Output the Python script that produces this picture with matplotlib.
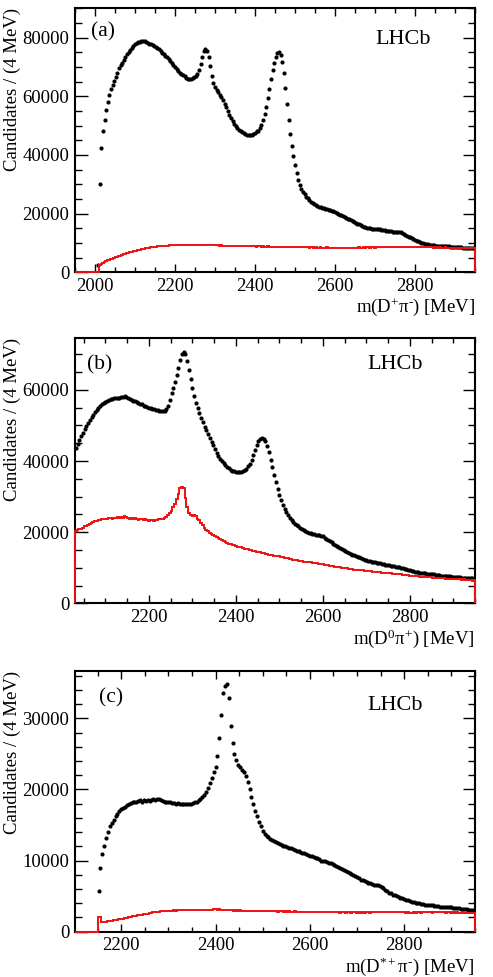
import numpy as np
import matplotlib.pyplot as plt
from matplotlib.ticker import MultipleLocator

plt.rcParams['font.family'] = ['Liberation Serif', 'DejaVu Serif']
plt.rcParams['mathtext.fontset'] = 'custom'
plt.rcParams['mathtext.rm'] = 'Liberation Serif'
plt.rcParams['mathtext.it'] = 'Liberation Serif:italic'
plt.rcParams['mathtext.bf'] = 'Liberation Serif:bold'

BIN = 4.0  # MeV

# ---- (a) m(D+ pi-) : candidates in thousands, 4 MeV bins
a_black_first = 2008
a_black_k = [
    2.5, 30.0, 42.5, 48.3, 52.0, 55.2, 58.0, 60.5, 62.5, 64.0,
    65.3, 66.5, 68.0, 69.5, 70.6, 71.5, 72.4, 73.3, 74.3, 75.2,
    75.9, 76.6, 77.2, 77.7, 78.1, 78.4, 78.6, 78.8, 78.9, 78.8,
    78.6, 78.3, 78.0, 77.7, 77.4, 77.2, 76.9, 76.5, 76.0, 75.4,
    74.9, 74.4, 73.8, 73.3, 72.8, 72.2, 71.5, 70.7, 69.9, 69.2,
    68.6, 68.1, 67.7, 67.3, 66.9, 66.3, 65.9, 65.8, 66.0, 66.2,
    66.5, 66.9, 67.6, 68.8, 71.0, 73.5, 75.5, 76.2, 75.4, 73.5,
    70.5, 67.0, 64.5, 63.2, 62.3, 61.5, 60.6, 59.7, 58.6, 57.4,
    56.2, 55.0, 53.7, 52.5, 51.5, 50.6, 49.9, 49.2, 48.6, 48.1,
    47.7, 47.4, 47.1, 46.9, 46.8, 46.8, 46.8, 47.0, 47.4, 48.0,
    48.3, 49.2, 50.3, 51.8, 53.8, 56.5, 59.5, 62.5, 65.8, 69.0,
    71.5, 73.5, 74.8, 75.0, 74.0, 71.8, 68.0, 63.0, 57.5, 52.0,
    47.2, 43.2, 39.6, 36.5, 33.8, 31.6, 29.8, 28.5, 27.4, 26.6,
    25.8, 25.2, 24.6, 24.1, 23.7, 23.3, 23.0, 22.7, 22.4, 22.2,
    22.0, 21.8, 21.6, 21.5, 21.4, 21.2, 21.0, 20.8, 20.5, 20.2,
    19.9, 19.7, 19.4, 19.1, 18.8, 18.6, 18.3, 18.0, 17.7, 17.4,
    17.1, 16.8, 16.5, 16.3, 16.0, 15.8, 15.6, 15.4, 15.2, 15.1,
    15.0, 14.9, 14.9, 14.8, 14.8, 14.6, 14.6, 14.5, 14.4, 14.4,
    14.2, 14.1, 14.0, 14.0, 13.9, 13.9, 13.8, 13.8, 13.8, 13.6,
    13.4, 13.1, 12.8, 12.5, 12.2, 11.9, 11.6, 11.3, 11.0, 10.8,
    10.5, 10.3, 10.1, 9.9, 9.8, 9.6, 9.5, 9.4, 9.3, 9.2,
    9.2, 9.1, 9.1, 9.0, 9.0, 8.9, 8.9, 8.8, 8.8, 8.8,
    8.7, 8.7, 8.6, 8.6, 8.6, 8.5, 8.5, 8.5, 8.4, 8.4,
    8.4, 8.3, 8.3, 8.3, 8.2, 8.2,
]
a_red_first = 1952
a_red_k = [0.0] * 15 + [
    2.6, 2.9, 3.2, 3.5, 3.8, 4.1, 4.3, 4.5, 4.7, 4.9,
    5.1, 5.3, 5.5, 5.7, 5.9, 6.1, 6.3, 6.5, 6.6, 6.8,
    7.0, 7.1, 7.3, 7.4, 7.6, 7.7, 7.9, 8.0, 8.1, 8.2,
    8.3, 8.4, 8.5, 8.6, 8.7, 8.7, 8.8, 8.9, 8.9, 9.0,
    9.0, 9.1, 9.1, 9.1, 9.2, 9.2, 9.2, 9.3, 9.3, 9.3,
    9.3, 9.4, 9.3, 9.4, 9.4, 9.3, 9.4, 9.4, 9.3, 9.4,
    9.3, 9.4, 9.3, 9.3, 9.4, 9.3, 9.3, 9.2, 9.3, 9.3,
    9.2, 9.3, 9.2, 9.2, 9.2, 9.1, 9.2, 9.1, 9.1, 9.1,
    9.0, 9.1, 9.0, 9.0, 9.0, 8.9, 9.0, 8.9, 8.9, 8.9,
    8.9, 8.8, 8.9, 8.8, 8.8, 8.9, 8.8, 8.8, 8.7, 8.8,
    8.8, 8.7, 8.8, 8.7, 8.7, 8.8, 8.7, 8.7, 8.6, 8.7,
    8.7, 8.6, 8.7, 8.6, 8.6, 8.7, 8.6, 8.6, 8.6, 8.5,
    8.6, 8.6, 8.5, 8.6, 8.5, 8.5, 8.6, 8.5, 8.5, 8.5,
    8.5, 8.4, 8.5, 8.5, 8.4, 8.5, 8.4, 8.4, 8.5, 8.4,
    8.4, 8.4, 8.5, 8.4, 8.4, 8.4, 8.3, 8.4, 8.4, 8.4,
    8.4, 8.3, 8.4, 8.4, 8.3, 8.4, 8.4, 8.3, 8.4, 8.4,
    8.4, 8.4, 8.5, 8.4, 8.4, 8.5, 8.4, 8.5, 8.5, 8.4,
    8.5, 8.5, 8.4, 8.5, 8.5, 8.5, 8.6, 8.5, 8.5, 8.6,
    8.5, 8.6, 8.5, 8.6, 8.6, 8.5, 8.6, 8.6, 8.5, 8.6,
    8.6, 8.6, 8.5, 8.6, 8.6, 8.5, 8.6, 8.6, 8.6, 8.5,
    8.6, 8.5, 8.6, 8.5, 8.5, 8.6, 8.5, 8.5, 8.5, 8.4,
    8.5, 8.5, 8.4, 8.5, 8.4, 8.4, 8.5, 8.4, 8.4, 8.4,
    8.4, 8.3, 8.4, 8.4, 8.3, 8.4, 8.3, 8.3, 8.4, 8.3,
    8.3, 8.2, 8.3, 8.2, 8.2,
]

# ---- (b) m(D0 pi+)
b_black_first = 2032
b_black_k = [
    43.8, 44.9, 46.0, 47.0, 48.0, 49.0, 49.9, 50.7, 51.5, 52.3,
    53.0, 53.7, 54.4, 55.0, 55.6, 56.0, 56.4, 56.7, 57.0, 57.2,
    57.4, 57.5, 57.6, 57.7, 57.7, 57.8, 57.9, 58.0, 58.3, 58.0,
    57.6, 57.4, 57.2, 57.0, 56.8, 56.5, 56.3, 56.1, 55.9, 55.6,
    55.4, 55.2, 55.0, 54.9, 54.7, 54.5, 54.4, 54.3, 54.2, 54.0,
    54.0, 54.1, 54.6, 55.6, 57.2, 59.0, 60.6, 62.3, 64.2, 66.2,
    68.3, 70.0, 70.6, 70.0, 68.2, 65.7, 63.2, 60.6, 58.3, 56.3,
    54.8, 53.4, 52.1, 50.9, 49.7, 48.6, 47.5, 46.4, 45.4, 44.4,
    43.4, 42.4, 41.5, 40.7, 40.0, 39.4, 38.9, 38.4, 38.0, 37.6,
    37.3, 37.1, 37.0, 36.9, 36.9, 37.0, 37.2, 37.5, 37.9, 38.5,
    39.3, 40.4, 41.7, 43.0, 44.4, 45.5, 46.2, 46.5, 46.3, 45.6,
    44.3, 42.5, 40.4, 38.3, 36.2, 34.2, 32.2, 30.5, 29.0, 27.7,
    26.6, 25.6, 24.8, 24.1, 23.5, 22.9, 22.4, 22.0, 21.6, 21.2,
    20.9, 20.6, 20.4, 20.1, 19.9, 19.7, 19.5, 19.4, 19.3, 19.2,
    19.1, 19.0, 18.8, 18.5, 18.1, 17.8, 17.4, 17.1, 16.7, 16.4,
    16.1, 15.8, 15.5, 15.2, 14.9, 14.6, 14.4, 14.1, 13.9, 13.7,
    13.5, 13.3, 13.1, 12.9, 12.7, 12.5, 12.3, 12.2, 12.0, 11.9,
    11.7, 11.6, 11.5, 11.4, 11.3, 11.2, 11.1, 11.0, 10.9, 10.8,
    10.7, 10.6, 10.5, 10.4, 10.3, 10.2, 10.1, 10.0, 9.9, 9.7,
    9.6, 9.4, 9.3, 9.1, 9.0, 8.9, 8.8, 8.7, 8.6, 8.5,
    8.5, 8.4, 8.3, 8.3, 8.2, 8.1, 8.1, 8.0, 7.9, 7.9,
    7.8, 7.8, 7.7, 7.7, 7.6, 7.6, 7.5, 7.5, 7.4, 7.4,
    7.3, 7.3, 7.2, 7.2, 7.2, 7.1, 7.1, 7.0, 7.0, 6.9,
]
b_red_first = 2032
b_red_k = [
    20.2, 20.5, 20.8, 21.0, 21.3, 21.6, 21.8, 22.0, 22.3, 22.6,
    22.8, 23.0, 23.2, 23.3, 23.5, 23.6, 23.6, 23.8, 23.7, 23.9,
    24.0, 23.8, 24.1, 24.0, 24.2, 24.0, 24.3, 24.1, 24.5, 24.2,
    24.0, 23.8, 24.0, 23.6, 24.0, 23.8, 23.5, 23.8, 23.6, 23.4,
    23.7, 23.4, 23.2, 23.5, 23.3, 23.0, 23.4, 23.3, 23.6, 23.8,
    23.7, 24.0, 24.3, 24.8, 25.3, 26.0, 27.0, 28.0, 29.3, 30.8,
    32.3, 32.6, 32.4, 29.5, 27.0, 25.3, 24.8, 24.6, 24.9, 24.5,
    23.8, 23.4, 22.6, 21.9, 21.2, 20.7, 20.2, 19.8, 19.4, 19.1,
    19.0, 18.6, 18.3, 18.0, 17.8, 17.5, 17.3, 17.0, 16.8, 16.6,
    16.4, 16.3, 16.1, 15.9, 15.8, 15.7, 15.6, 15.4, 15.3, 15.2,
    15.0, 14.9, 14.8, 14.7, 14.5, 14.4, 14.3, 14.2, 14.1, 14.0,
    13.9, 13.7, 13.6, 13.5, 13.4, 13.3, 13.3, 13.2, 13.0, 12.9,
    12.8, 12.7, 12.6, 12.5, 12.4, 12.3, 12.2, 12.1, 12.0, 11.9,
    11.8, 11.7, 11.7, 11.6, 11.5, 11.5, 11.4, 11.3, 11.2, 11.2,
    11.1, 11.0, 11.0, 10.9, 10.8, 10.7, 10.6, 10.5, 10.4, 10.3,
    10.2, 10.2, 10.1, 10.0, 9.9, 9.9, 9.8, 9.7, 9.7, 9.6,
    9.5, 9.5, 9.4, 9.4, 9.3, 9.3, 9.2, 9.2, 9.1, 9.0,
    9.0, 8.9, 8.9, 8.8, 8.8, 8.7, 8.6, 8.6, 8.5, 8.5,
    8.4, 8.4, 8.3, 8.3, 8.2, 8.2, 8.1, 8.1, 8.0, 8.0,
    7.9, 7.9, 7.8, 7.8, 7.7, 7.7, 7.6, 7.6, 7.5, 7.5,
    7.4, 7.4, 7.3, 7.3, 7.3, 7.2, 7.2, 7.1, 7.1, 7.1,
    7.0, 7.0, 7.0, 6.9, 6.9, 6.9, 6.8, 6.8, 6.8, 6.7,
    6.7, 6.7, 6.6, 6.7, 6.6, 6.5, 6.6, 6.5, 6.4, 6.5,
]

# ---- (c) m(D*+ pi-)
c_black_first = 2152
c_black_k = [
    5.7, 9.0, 10.9, 12.0, 13.2, 14.0, 14.8, 15.3, 15.7, 16.2,
    16.6, 16.9, 17.2, 17.4, 17.6, 17.8, 17.9, 18.1, 18.2, 18.3,
    18.3, 18.4, 18.5, 18.3, 18.5, 18.4, 18.5, 18.4, 18.5, 18.6,
    18.5, 18.6, 18.7, 18.5, 18.4, 18.3, 18.3, 18.2, 18.2, 18.1,
    18.1, 18.0, 18.1, 18.0, 18.0, 17.9, 18.0, 17.9, 17.9, 18.0,
    18.1, 18.2, 18.3, 18.5, 18.7, 18.9, 19.2, 19.6, 20.2, 20.9,
    21.6, 22.5, 23.2, 24.7, 27.3, 30.5, 33.5, 34.6, 34.9, 32.8,
    28.9, 26.5, 25.0, 24.1, 23.5, 23.2, 22.8, 22.4, 21.9, 21.1,
    20.0, 18.9, 17.9, 17.0, 16.2, 15.4, 14.8, 14.2, 13.8, 13.5,
    13.3, 13.1, 12.9, 12.7, 12.6, 12.4, 12.3, 12.2, 12.1, 12.0,
    11.9, 11.8, 11.7, 11.6, 11.5, 11.4, 11.3, 11.2, 11.1, 11.0,
    10.9, 10.8, 10.7, 10.6, 10.5, 10.4, 10.3, 10.2, 10.0, 10.0,
    9.9, 9.8, 9.7, 9.6, 9.5, 9.4, 9.3, 9.1, 9.0, 8.8,
    8.7, 8.5, 8.4, 8.2, 8.1, 7.9, 7.8, 7.7, 7.5, 7.3,
    7.2, 7.1, 7.0, 6.9, 6.8, 6.7, 6.6, 6.6, 6.5, 6.4,
    6.3, 6.1, 5.9, 5.7, 5.5, 5.4, 5.2, 5.1, 5.0, 4.9,
    4.8, 4.7, 4.6, 4.5, 4.4, 4.3, 4.2, 4.2, 4.1, 4.0,
    4.0, 3.9, 3.9, 3.8, 3.8, 3.7, 3.7, 3.7, 3.6, 3.6,
    3.6, 3.5, 3.5, 3.5, 3.4, 3.4, 3.4, 3.4, 3.3, 3.3,
    3.3, 3.3, 3.2, 3.2, 3.2, 3.2, 3.1, 3.1, 3.1, 3.1,
]
c_red_first = 2104
c_red_k = [0.0] * 12 + [
    2.0, 2.0, 1.3, 1.35, 1.4, 1.45, 1.5, 1.55, 1.6, 1.65,
    1.7, 1.75, 1.8, 1.85, 1.9, 1.95, 2.0, 2.1, 2.15, 2.2,
    2.25, 2.3, 2.35, 2.4, 2.45, 2.5, 2.55, 2.6, 2.65, 2.7,
    2.7, 2.75, 2.8, 2.85, 2.9, 2.85, 2.9, 2.95, 2.9, 2.95,
    3.0, 2.95, 3.0, 3.05, 3.0, 3.05, 3.1, 3.0, 3.1, 3.05,
    3.1, 3.05, 3.1, 3.1, 3.05, 3.1, 3.05, 3.1, 3.1, 3.05,
    3.1, 3.15, 3.2, 3.1, 3.15, 3.1, 3.05, 3.0, 3.05, 3.0,
    3.0, 3.05, 2.95, 3.0, 2.95, 3.0, 2.95, 2.9, 2.95, 2.9,
    2.95, 2.9, 2.9, 2.95, 2.9, 2.85, 2.9, 2.9, 2.85, 2.9,
    2.85, 2.9, 2.85, 2.85, 2.9, 2.8, 2.85, 2.85, 2.8, 2.85,
    2.8, 2.85, 2.8, 2.8, 2.85, 2.8, 2.75, 2.8, 2.8, 2.75,
    2.8, 2.75, 2.8, 2.75, 2.75, 2.8, 2.75, 2.7, 2.75, 2.75,
    2.7, 2.75, 2.7, 2.75, 2.7, 2.7, 2.75, 2.7, 2.65, 2.7,
    2.7, 2.65, 2.7, 2.7, 2.65, 2.7, 2.75, 2.65, 2.7, 2.65,
    2.7, 2.65, 2.7, 2.7, 2.65, 2.7, 2.7, 2.75, 2.7, 2.7,
    2.75, 2.7, 2.7, 2.75, 2.7, 2.7, 2.75, 2.7, 2.75, 2.7,
    2.7, 2.75, 2.7, 2.65, 2.7, 2.6, 2.65, 2.7, 2.65, 2.7,
    2.7, 2.65, 2.7, 2.7, 2.75, 2.7, 2.7, 2.65, 2.7, 2.7,
    2.7, 2.75, 2.7, 2.7, 2.65, 2.7, 2.7, 2.65, 2.7, 2.65,
    2.7, 2.65, 2.65, 2.7, 2.6, 2.65, 2.6, 2.65, 2.6, 2.6,
]

panels = [
    dict(bf=a_black_first, bk=a_black_k, rf=a_red_first, rk=a_red_k,
         xlim=(1950, 2950), ymax=90000, ymaj=20000, ymin=5000,
         xlabel='m(D$^{+}$π$^{\\text{-}}$) [MeV]', tag='(a)', tagx=0.04, tagy=0.91,
         lx=0.75, ly=0.88, rect=[0.1521, 0.7213, 0.8114, 0.2702]),
    dict(bf=b_black_first, bk=b_black_k, rf=b_red_first, rk=b_red_k,
         xlim=(2030, 2950), ymax=74500, ymaj=20000, ymin=5000,
         xlabel='m(D$^{0}$π$^{+}$) [MeV]', tag='(b)', tagx=0.03, tagy=0.90,
         lx=0.73, ly=0.90, rect=[0.1521, 0.3825, 0.8114, 0.2712]),
    dict(bf=c_black_first, bk=c_black_k, rf=c_red_first, rk=c_red_k,
         xlim=(2102, 2950), ymax=36700, ymaj=10000, ymin=2000,
         xlabel='m(D$^{*+}$π$^{\\text{-}}$) [MeV]', tag='(c)', tagx=0.06, tagy=0.895,
         lx=0.73, ly=0.868, rect=[0.1521, 0.0464, 0.8114, 0.2671]),
]

fig = plt.figure(figsize=(4.93, 9.77), dpi=100)

for p in panels:
    ax = fig.add_axes(p['rect'])
    bk = np.array(p['bk']) * 1000
    bx = p['bf'] + BIN * np.arange(len(bk))
    rk = np.array(p['rk']) * 1000
    edges = p['rf'] - BIN / 2 + BIN * np.arange(len(rk) + 1)

    ax.plot(bx, bk, 'o', color='black', ms=3.0, mew=0, zorder=2)
    ax.stairs(rk, edges, baseline=0, color='#ee1111', lw=1.4, zorder=3,
              clip_on=False)

    ax.set_xlim(*p['xlim'])
    ax.set_ylim(0, p['ymax'])
    ax.xaxis.set_major_locator(MultipleLocator(200))
    ax.xaxis.set_minor_locator(MultipleLocator(50))
    ax.yaxis.set_major_locator(MultipleLocator(p['ymaj']))
    ax.yaxis.set_minor_locator(MultipleLocator(p['ymin']))

    ax.tick_params(axis='both', which='both', direction='in', top=True, right=True,
                   labelsize=13.5, width=1.0)
    ax.tick_params(axis='x', which='major', length=6, pad=4)
    ax.tick_params(axis='x', which='minor', length=3.5)
    ax.tick_params(axis='y', which='major', length=9, pad=4)
    ax.tick_params(axis='y', which='minor', length=4.8)
    for s in ax.spines.values():
        s.set_linewidth(1.5)

    ax.set_xlabel(p['xlabel'], fontsize=13.5, loc='right', labelpad=1)
    ax.set_ylabel('Candidates / (4 MeV)', fontsize=13.5, loc='top', labelpad=1)

    ax.text(p['tagx'], p['tagy'], p['tag'], transform=ax.transAxes, fontsize=15.5,
            ha='left', va='center')
    ax.text(p['lx'], p['ly'], 'LHCb', transform=ax.transAxes, fontsize=16,
            ha='left', va='center')

fig.savefig('out.png', dpi=100)
